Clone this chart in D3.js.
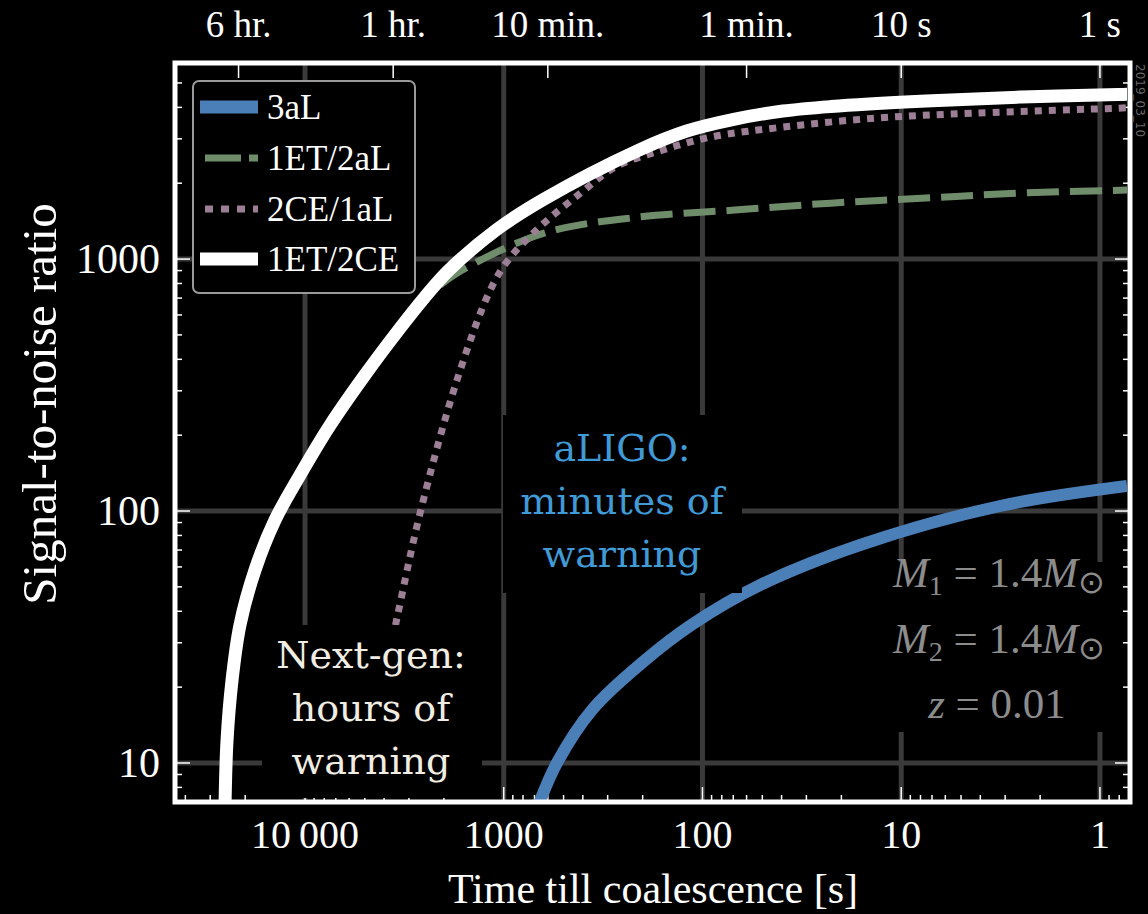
<!DOCTYPE html>
<html>
<head>
<meta charset="utf-8">
<script src="https://cdn.jsdelivr.net/npm/d3@7"></script>
<style>
  html, body { margin: 0; padding: 0; background: #000; }
  svg { display: block; }
  text { font-family: "Liberation Serif", "Times New Roman", serif; }
</style>
</head>
<body>
<svg id="chart" width="1148" height="914"></svg>
<script>
// time till coalescence [s] vs signal-to-noise ratio
const timeTicks = [21600, 3600, 600, 60, 10, 1];
const timeLabels = ["6 hr.", "1 hr.", "10 min.", "1 min.", "10 s", "1 s"];
const xTicks = [10000, 1000, 100, 10, 1];
const xTickLabels = ["10\u2009000", "1000", "100", "10", "1"];
const yTicks = [10, 100, 1000];
const yTickLabels = ["10", "100", "1000"];

const seriesNames = ["3aL", "1ET/2aL", "2CE/1aL", "1ET/2CE"];

const snr3aL = [
  [680, 6.57], [540, 10], [356, 16.4], [199, 25.2], [112, 35.6],
  [51.4, 50.8], [16.1, 73.3], [3.18, 104.7], [0.731, 125.7]
];
const snrET2aL = [
  [2094, 788], [1622, 904], [627, 1268], [209, 1468], [68.6, 1565],
  [22.6, 1667], [7.5, 1746], [2.47, 1828], [0.7, 1880]
];
const snrCE1aL = [
  [4006, 21.3], [3444, 37.6], [2637, 98], [1719, 331], [1170, 753],
  [950, 991], [660, 1340], [410, 1828], [275, 2318], [158, 2710],
  [90.6, 3050], [39.4, 3340], [13.1, 3630], [4.3, 3795], [0.81, 3970], [0.7, 3990]
];
const snrET2CE = [
  [25260, 6.8], [24680, 12.3], [23290, 21.3], [21240, 35.3], [17850, 58.3],
  [14160, 92], [10590, 139], [7480, 219], [4990, 347], [3325, 532],
  [2519, 700], [1908, 896], [1094, 1303], [627, 1729], [209, 2707],
  [120, 3222], [68.6, 3594], [39.4, 3867], [22.6, 4029], [7.5, 4236],
  [2.47, 4395], [0.81, 4496], [0.7, 4520]
];

const colors = ["#4a7fb8", "#6f8d6a", "#9c7f95", "#ffffff"];

const svg = d3.select("#chart");

const x = d3.scaleLog().domain([45100, 0.706]).range([175, 1130]);
const y = d3.scaleLog().domain([7, 6000]).range([802, 63]);

const pLeft = 175, pRight = 1130, pTop = 63, pBottom = 802;

svg.append("defs").append("clipPath").attr("id", "plotclip")
  .append("rect").attr("x", 178).attr("y", 66).attr("width", 949).attr("height", 734);

// grid
const grid = svg.append("g");
grid.selectAll(".vg").data(xTicks).enter().append("line")
  .attr("x1", d => x(d)).attr("x2", d => x(d)).attr("y1", pTop).attr("y2", pBottom)
  .attr("stroke", "#3a3a3a").attr("stroke-width", 5);
grid.selectAll(".hg").data(yTicks).enter().append("line")
  .attr("y1", d => y(d)).attr("y2", d => y(d)).attr("x1", pLeft).attr("x2", pRight)
  .attr("stroke", "#3a3a3a").attr("stroke-width", 5);

// ticks
let xMinor = [];
[10000, 1000, 100, 10, 1, 0.1].forEach(dec => {
  for (let k = 2; k <= 9; k++) {
    const v = dec * k;
    if (v < 45100 && v > 0.706 && !xTicks.includes(v)) xMinor.push(v);
  }
});
let yMinor = [];
[1, 10, 100, 1000].forEach(dec => {
  for (let k = 2; k <= 9; k++) {
    const v = dec * k;
    if (v > 7 && v < 6000) yMinor.push(v);
  }
});

const ticks = svg.append("g").attr("stroke", "#fff").attr("stroke-width", 1.5);
ticks.selectAll(".bt").data(xTicks.map(v => [v, 15]).concat(xMinor.map(v => [v, 7])))
  .enter().append("line")
  .attr("x1", d => x(d[0])).attr("x2", d => x(d[0]))
  .attr("y1", pBottom).attr("y2", d => pBottom - d[1]);
ticks.selectAll(".tt").data(timeTicks).enter().append("line")
  .attr("x1", d => x(d)).attr("x2", d => x(d))
  .attr("y1", pTop).attr("y2", pTop + 15);
const yAll = yTicks.map(v => [v, 15]).concat(yMinor.map(v => [v, 7]));
ticks.selectAll(".lt").data(yAll).enter().append("line")
  .attr("y1", d => y(d[0])).attr("y2", d => y(d[0]))
  .attr("x1", pLeft).attr("x2", d => pLeft + d[1]);
ticks.selectAll(".rt").data(yAll).enter().append("line")
  .attr("y1", d => y(d[0])).attr("y2", d => y(d[0]))
  .attr("x1", pRight).attr("x2", d => pRight - d[1]);

// curves
const line = d3.line().x(d => x(d[0])).y(d => y(d[1])).curve(d3.curveCatmullRom.alpha(0.5));
const curves = svg.append("g").attr("clip-path", "url(#plotclip)").attr("fill", "none");
curves.append("path").datum(snr3aL).attr("d", line)
  .attr("stroke", colors[0]).attr("stroke-width", 12);
curves.append("path").datum(snrET2aL).attr("d", line)
  .attr("stroke", colors[1]).attr("stroke-width", 7).attr("stroke-dasharray", "32,11");
curves.append("path").datum(snrCE1aL).attr("d", line)
  .attr("stroke", colors[2]).attr("stroke-width", 7).attr("stroke-dasharray", "7,7");
curves.append("path").datum(snrET2CE).attr("d", line)
  .attr("stroke", colors[3]).attr("stroke-width", 13);

// annotation boxes (black, cover grid and curves)
svg.append("rect").attr("x", 503).attr("y", 415).attr("width", 239).attr("height", 178).attr("fill", "#000");
svg.append("rect").attr("x", 262).attr("y", 625).attr("width", 220).attr("height", 173).attr("fill", "#000");
svg.append("rect").attr("x", 872).attr("y", 562).attr("width", 236).attr("height", 170).attr("fill", "#000");

// frame
svg.append("rect").attr("x", pLeft).attr("y", pTop).attr("width", pRight - pLeft).attr("height", pBottom - pTop)
  .attr("fill", "none").attr("stroke", "#fff").attr("stroke-width", 5);

// tick labels
svg.selectAll(".tl").data(timeTicks).enter().append("text")
  .attr("x", d => x(d)).attr("y", 37).attr("text-anchor", "middle")
  .attr("font-size", 37).attr("fill", "#fff")
  .text((d, i) => timeLabels[i]);
svg.selectAll(".xl").data(xTicks).enter().append("text")
  .attr("x", d => x(d)).attr("y", 848).attr("text-anchor", "middle")
  .attr("font-size", 40).attr("fill", "#fff")
  .text((d, i) => xTickLabels[i]);
svg.selectAll(".yl").data(yTicks).enter().append("text")
  .attr("x", 160).attr("y", d => y(d) + 14).attr("text-anchor", "end")
  .attr("font-size", 42).attr("fill", "#fff")
  .text((d, i) => yTickLabels[i]);

svg.append("text").attr("x", 653).attr("y", 903).attr("text-anchor", "middle")
  .attr("font-size", 42).attr("fill", "#fff").text("Time till coalescence [s]");
svg.append("text").attr("transform", "translate(56,404) rotate(-90)").attr("text-anchor", "middle")
  .attr("font-size", 49).attr("fill", "#fff").text("Signal-to-noise ratio");

svg.append("text").attr("transform", "translate(1136,64) rotate(90)")
  .attr("font-size", 12).attr("fill", "#666")
  .style("font-family", "'DejaVu Sans', sans-serif").text("2019_03_10");

// legend
const legend = svg.append("g");
legend.append("rect").attr("x", 193).attr("y", 81).attr("width", 222).attr("height", 212)
  .attr("rx", 6).attr("fill", "#000").attr("stroke", "#9a9a9a").attr("stroke-width", 2);
const legY = [107, 158, 209, 259];
const legW = [13, 7, 7, 13];
const legDash = [null, "36,8", "8,8", null];
seriesNames.forEach((name, i) => {
  legend.append("line").attr("x1", i == 1 || i == 2 ? 205 : 200).attr("x2", 258)
    .attr("y1", legY[i]).attr("y2", legY[i])
    .attr("stroke", colors[i]).attr("stroke-width", legW[i])
    .attr("stroke-dasharray", legDash[i]);
  legend.append("text").attr("x", 267).attr("y", legY[i] + 12)
    .attr("font-size", 35).attr("fill", "#fff").text(name);
});

// annotations
const slab = "'DejaVu Serif', serif";
const aligo = ["aLIGO:", "minutes of", "warning"];
svg.selectAll(".al").data(aligo).enter().append("text")
  .attr("x", 622).attr("y", (d, i) => 461 + i * 53).attr("text-anchor", "middle")
  .attr("font-size", 38).attr("fill", "#3f9ad6").style("font-family", slab)
  .text(d => d);
const nextgen = ["Next-gen:", "hours of", "warning"];
svg.selectAll(".ng").data(nextgen).enter().append("text")
  .attr("x", 371).attr("y", (d, i) => 668 + i * 53).attr("text-anchor", "middle")
  .attr("font-size", 38).attr("fill", "#f1ede2").style("font-family", slab)
  .text(d => d);

const massTxt = svg.append("g").attr("fill", "#8c8c8c").attr("font-size", 43).attr("text-anchor", "middle");
[["1", 587], ["2", 653]].forEach(([sub, yy]) => {
  const t = massTxt.append("text").attr("x", 999).attr("y", yy);
  t.append("tspan").attr("font-style", "italic").text("M");
  t.append("tspan").attr("font-size", 28).attr("dy", 8).text(sub);
  t.append("tspan").attr("dy", -8).text(" = 1.4");
  t.append("tspan").attr("font-style", "italic").text("M");
  t.append("tspan").attr("font-size", 32).attr("dy", 6).text("\u2299");
});
const zt = massTxt.append("text").attr("x", 997).attr("y", 718);
zt.append("tspan").attr("font-style", "italic").text("z");
zt.append("tspan").text(" = 0.01");
</script>
</body>
</html>
